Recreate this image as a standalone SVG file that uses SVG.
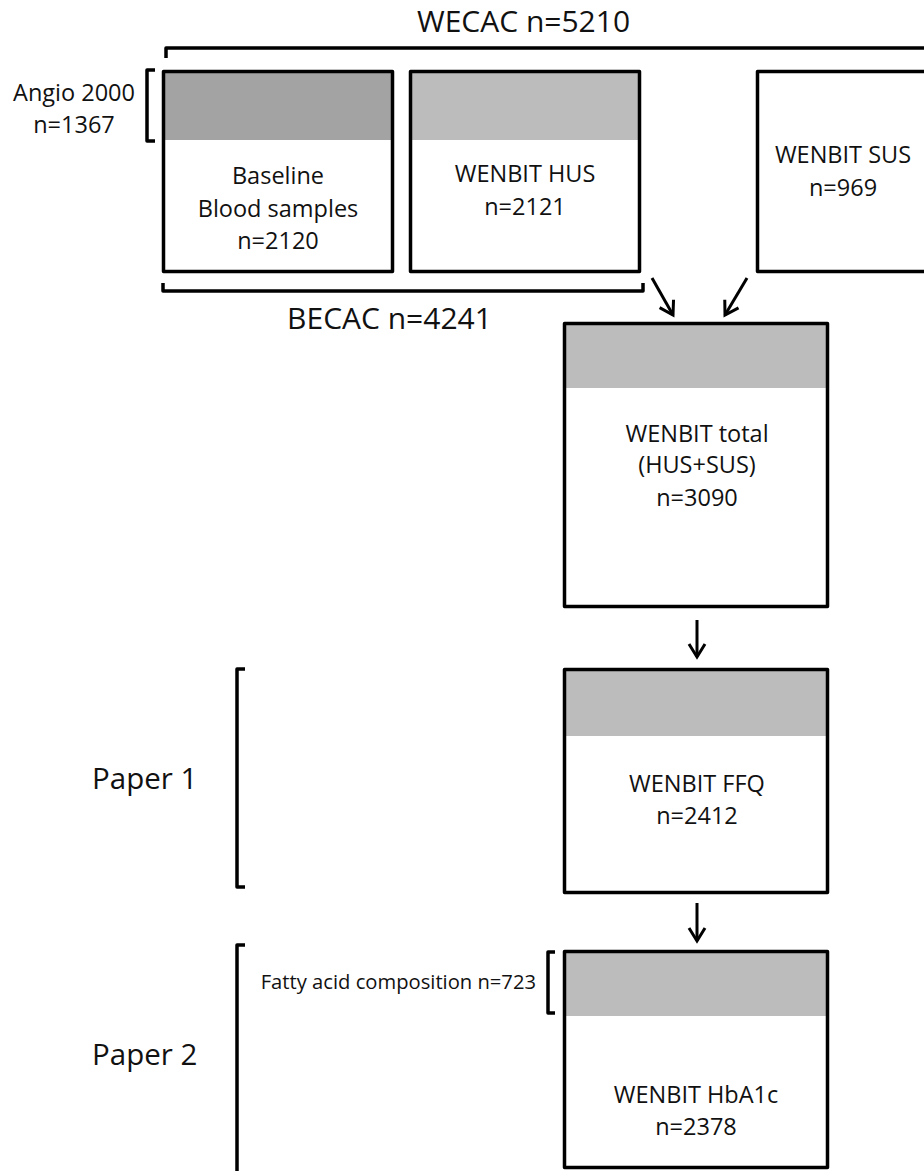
<svg xmlns="http://www.w3.org/2000/svg" width="924" height="1171" viewBox="0 0 924 1171">
  <style>
    .t { font-family: "Open Sans", "Liberation Sans", sans-serif; fill: #111; }
    .box { font-size: 23.5px; text-anchor: middle; }
    .big { font-size: 30px; }
    .frame { fill: none; stroke: #000; stroke-width: 3.5; stroke-linejoin: round; }
    .dark { fill: #a3a3a3; }
    .light { fill: #bcbcbc; }
    .br { fill: none; stroke: #000; stroke-width: 3.5; stroke-linejoin: round; }
    .arrow { fill: none; stroke: #000; stroke-width: 3; marker-end: url(#arr); }
  </style>
  <defs>
    <marker id="arr" viewBox="-2 -2 18 20" refX="13" refY="8" markerWidth="18" markerHeight="20" orient="auto" markerUnits="userSpaceOnUse">
      <path d="M0,0 L13,8 L0,16" fill="none" stroke="#000" stroke-width="3" stroke-linejoin="miter"/>
    </marker>
  </defs>
  <rect x="0" y="0" width="924" height="1171" fill="#fff"/>

  <g id="brackets">
    <path class="br" d="M166,58 L166,48 L930,48"/>
    <path class="br" d="M155,70 L147,70 L147,141 L155,141"/>
    <path class="br" d="M163,283 L163,291 L643,291 L643,283"/>
    <path class="br" d="M245,669 L237,669 L237,887 L245,887"/>
    <path class="br" d="M245,945 L237,945 L237,1175"/>
    <path class="br" d="M555,952 L548,952 L548,1013 L555,1013"/>
  </g>

  <g id="labels">
    <text class="t big" x="523.5" y="32" text-anchor="middle">WECAC n=5210</text>
    <text class="t box" x="74" y="101">Angio 2000</text>
    <text class="t box" x="74" y="133">n=1367</text>
    <text class="t big" x="389.5" y="329" text-anchor="middle">BECAC n=4241</text>
    <text class="t" x="92" y="789" font-size="29.5px">Paper 1</text>
    <text class="t" x="92" y="1065" font-size="29.5px">Paper 2</text>
    <text class="t" x="536" y="989" font-size="20.2px" text-anchor="end">Fatty acid composition n=723</text>
  </g>

  <g id="node-baseline">
    <rect class="dark" x="163.5" y="71.5" width="229" height="68.5"/>
    <rect class="frame" x="163.5" y="71.5" width="229" height="200"/>
    <text class="t box" x="278" y="184">Baseline</text>
    <text class="t box" x="278" y="217">Blood samples</text>
    <text class="t box" x="278" y="249">n=2120</text>
  </g>

  <g id="node-hus">
    <rect class="light" x="410.5" y="71.5" width="229" height="68.5"/>
    <rect class="frame" x="410.5" y="71.5" width="229" height="200"/>
    <text class="t box" x="525" y="182">WENBIT HUS</text>
    <text class="t box" x="525" y="215">n=2121</text>
  </g>

  <g id="node-sus">
    <rect class="frame" x="757.5" y="71.5" width="200" height="200"/>
    <text class="t box" x="843" y="163">WENBIT SUS</text>
    <text class="t box" x="843" y="196">n=969</text>
  </g>

  <g id="node-total">
    <rect class="light" x="564.5" y="323.5" width="263" height="64.5"/>
    <rect class="frame" x="564.5" y="323.5" width="263" height="283"/>
    <text class="t box" x="697" y="442">WENBIT total</text>
    <text class="t box" x="697" y="473">(HUS+SUS)</text>
    <text class="t box" x="697" y="506">n=3090</text>
  </g>

  <g id="node-ffq">
    <rect class="light" x="564.5" y="669.5" width="263" height="66.5"/>
    <rect class="frame" x="564.5" y="669.5" width="263" height="223"/>
    <text class="t box" x="697" y="792">WENBIT FFQ</text>
    <text class="t box" x="697" y="824">n=2412</text>
  </g>

  <g id="node-hba1c">
    <rect class="light" x="564.5" y="951.5" width="263" height="64.5"/>
    <rect class="frame" x="564.5" y="951.5" width="263" height="216"/>
    <text class="t box" x="696" y="1103">WENBIT HbA1c</text>
    <text class="t box" x="696" y="1135">n=2378</text>
  </g>

  <g id="connectors">
    <line class="arrow" x1="652" y1="278" x2="673" y2="315"/>
    <line class="arrow" x1="747" y1="278" x2="725" y2="315"/>
    <line class="arrow" x1="697" y1="620" x2="697" y2="657"/>
    <line class="arrow" x1="697" y1="903" x2="697" y2="941"/>
  </g>
</svg>
